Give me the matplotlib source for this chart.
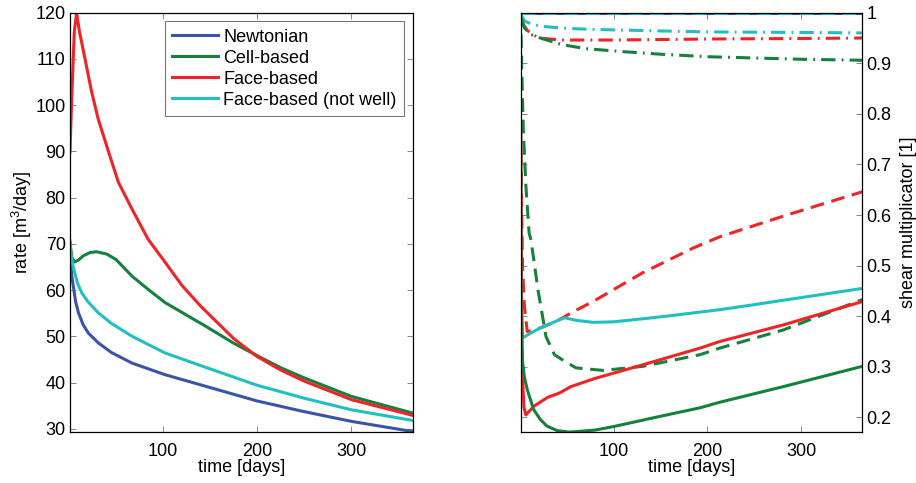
import numpy as np
import matplotlib.pyplot as plt

plt.rcParams['font.family'] = ['Liberation Sans', 'DejaVu Sans']
plt.rcParams['mathtext.default'] = 'regular'
plt.rcParams['font.size'] = 13

BLUE = '#3a55a8'
GREEN = '#16803e'
RED = '#ee2426'
CYAN = '#22bfc2'

# ---- left panel: well rate [m3/day] ----
t_newt = [1, 2, 3, 4.5, 7, 10, 15, 20.5, 31, 45, 67, 102, 145, 200, 250, 300, 365]
q_newt = [68.5, 65.5, 63, 60.9, 57.5, 55.1, 52.5, 50.7, 48.6, 46.5, 44.2, 41.7, 39.2, 36.0, 33.7, 31.6, 29.4]

t_cell = [1, 3, 6, 10, 15, 22, 29, 40, 50, 67, 85, 102, 145, 175, 200, 225, 250, 300, 365]
q_cell = [70.3, 67, 66.1, 66.5, 67.4, 68.1, 68.3, 67.8, 66.6, 63, 60, 57.3, 52.2, 48.5, 45.8, 43.2, 41.0, 37.0, 33.4]

t_face = [1, 2.8, 5.6, 8, 11, 17, 24, 31, 42, 52.5, 67, 84, 100, 120, 140, 175, 200, 225, 250, 300, 365]
q_face = [89.9, 101.3, 115.9, 120, 116, 110, 102.9, 97, 89.9, 83.3, 77.5, 71, 66.6, 61, 56.5, 49.5, 45.6, 42.7, 40.3, 36.3, 32.9]

t_fnw = [1, 2, 4, 6, 9, 13.5, 20, 31, 45, 67, 102, 145, 200, 250, 300, 365]
q_fnw = [70.6, 68, 65.5, 63.8, 61.5, 59.4, 57.5, 55.1, 52.8, 50, 46.4, 43.3, 39.4, 36.6, 34.1, 31.8]

# ---- right panel: shear multiplicator [1] ----
t_one = [1, 365]
m_one = [1.0, 1.0]

t_cyan_s = [1, 2, 3, 10, 20, 30, 42, 48, 60, 78, 100, 131, 160, 213, 250, 300, 365]
m_cyan_s = [0.526, 0.40, 0.357, 0.365, 0.375, 0.383, 0.393, 0.397, 0.392, 0.388, 0.389, 0.395, 0.401, 0.413, 0.423, 0.437, 0.455]
t_cyan_dd = [1, 3, 5.6, 15, 30, 50, 76, 101, 200, 300, 365]
m_cyan_dd = [0.998, 0.99, 0.983, 0.976, 0.972, 0.969, 0.967, 0.966, 0.962, 0.961, 0.96]

t_red_s = [1, 2, 3, 4.5, 6.5, 15, 30, 42, 54.5, 80, 131, 192, 213, 281, 365]
m_red_s = [0.77, 0.45, 0.28, 0.22, 0.205, 0.222, 0.24, 0.248, 0.261, 0.277, 0.304, 0.337, 0.35, 0.383, 0.429]
t_red_d = [1, 3, 5, 8, 15, 26, 42, 58, 78, 131, 185, 213, 281, 365]
m_red_d = [0.77, 0.5, 0.42, 0.37, 0.372, 0.38, 0.393, 0.41, 0.429, 0.486, 0.535, 0.557, 0.598, 0.646]
t_red_dd = [2, 3.8, 8, 19.8, 44.8, 101, 200, 300, 365]
m_red_dd = [0.985, 0.977, 0.965, 0.95, 0.946, 0.946, 0.948, 0.949, 0.95]

t_grn_s = [1, 1.5, 3, 5, 8, 15, 22, 29, 40, 53, 80, 100, 149, 192, 213, 281, 365]
m_grn_s = [0.77, 0.354, 0.31, 0.28, 0.255, 0.215, 0.196, 0.183, 0.174, 0.171, 0.175, 0.182, 0.202, 0.219, 0.23, 0.261, 0.301]
t_grn_d = [1, 2, 3.8, 6.5, 10, 12, 19.5, 28, 37, 48, 60, 89, 131, 192, 213, 281, 365]
m_grn_d = [1.0, 0.9, 0.77, 0.66, 0.565, 0.551, 0.452, 0.36, 0.324, 0.311, 0.298, 0.293, 0.301, 0.324, 0.337, 0.373, 0.433]
t_grn_dd = [1, 5, 12, 23.5, 44.8, 70, 110, 150, 200, 300, 365]
m_grn_dd = [0.99, 0.97, 0.957, 0.949, 0.937, 0.929, 0.923, 0.918, 0.913, 0.908, 0.906]

fig = plt.figure(figsize=(9.16, 4.83), dpi=100)
ax1 = fig.add_axes([0.0764, 0.1056, 0.374, 0.868])
ax2 = fig.add_axes([0.5684, 0.1053, 0.3729, 0.8684])

lw = 2.2
ax1.plot(t_newt, q_newt, color=BLUE, lw=lw, label='Newtonian')
ax1.plot(t_cell, q_cell, color=GREEN, lw=lw, label='Cell-based')
ax1.plot(t_face, q_face, color=RED, lw=lw, label='Face-based')
ax1.plot(t_fnw, q_fnw, color=CYAN, lw=lw, label='Face-based (not well)')
ax1.set_xlim(1, 365)
ax1.set_ylim(29.3, 120)
ax1.set_xticks([100, 200, 300])
ax1.set_yticks(range(30, 121, 10))
ax1.set_xlabel('time [days]', labelpad=-1)
ax1.set_ylabel('rate [m$^3$/day]', labelpad=1)
leg = ax1.legend(loc='upper right', bbox_to_anchor=(0.975, 0.98), fancybox=False,
                 edgecolor='#555555', handlelength=2.5, borderpad=0.42, labelspacing=0.22,
                 handletextpad=0.3, borderaxespad=0.0)
leg.get_frame().set_linewidth(0.8)

dd = (0, (4.7, 2.0, 0.6, 2.0))
ds = (0, (4.5, 2.5))
ax2.plot(t_one, m_one, color=BLUE, lw=lw)
ax2.plot(t_one, m_one, color=CYAN, lw=lw, ls=ds)
ax2.plot(t_cyan_dd, m_cyan_dd, color=CYAN, lw=lw, ls=dd)
ax2.plot(t_red_dd, m_red_dd, color=RED, lw=lw, ls=dd)
ax2.plot(t_grn_dd, m_grn_dd, color=GREEN, lw=lw, ls=dd)
ax2.plot(t_red_d, m_red_d, color=RED, lw=lw, ls=ds)
ax2.plot(t_grn_d, m_grn_d, color=GREEN, lw=lw, ls=ds)
ax2.plot(t_cyan_s, m_cyan_s, color=CYAN, lw=lw)
ax2.plot(t_red_s, m_red_s, color=RED, lw=lw)
ax2.plot(t_grn_s, m_grn_s, color=GREEN, lw=lw)
ax2.set_xlim(1, 365)
ax2.set_ylim(0.171, 1.0)
ax2.set_xticks([100, 200, 300])
yt = [0.2, 0.3, 0.4, 0.5, 0.6, 0.7, 0.8, 0.9, 1.0]
ax2.set_yticks(yt)
ax2.set_yticklabels(['0.2', '0.3', '0.4', '0.5', '0.6', '0.7', '0.8', '0.9', '1'])
ax2.yaxis.tick_right()
ax2.yaxis.set_label_position('right')
ax2.set_xlabel('time [days]', labelpad=-1)
ax2.set_ylabel('shear multiplicator [1]', labelpad=6)

for ax in (ax1, ax2):
    ax.tick_params(direction='in', top=True, right=True, left=True, bottom=True,
                   length=4, width=0.6, pad=3, color='#777777')
    ax.tick_params(axis='x', pad=8)
    for s in ax.spines.values():
        s.set_linewidth(0.9)

fig.savefig('out.png', dpi=100)
